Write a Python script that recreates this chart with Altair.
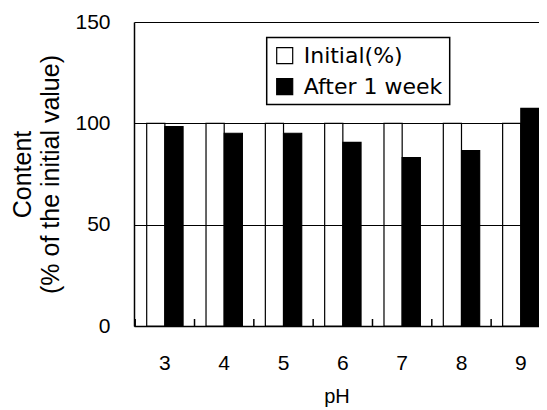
import altair as alt
import pandas as pd

ph_values = ["3", "4", "5", "6", "7", "8", "9"]
series_names = ["Initial(%)", "After 1 week"]
initial_values = [100, 100, 100, 100, 100, 100, 100]
after_values = [98.4, 95.1, 95.1, 90.6, 83.1, 86.5, 107.4]
y_ticks = [0, 50, 100, 150]

rows = []
for p, a, b in zip(ph_values, initial_values, after_values):
    rows.append({"pH": p, "series": series_names[0], "value": a})
    rows.append({"pH": p, "series": series_names[1], "value": b})
df = pd.DataFrame(rows)
cat_df = pd.DataFrame({"pH": ph_values})

FONT = "Liberation Sans"

x_scale = alt.Scale(domain=ph_values, paddingInner=0.387, paddingOuter=0.107, align=1)
x_axis = alt.Axis(
    labelAngle=0, ticks=False, domain=True, domainColor="black", domainWidth=1.5,
    grid=False, labelFont=FONT, labelFontSize=21, labelColor="black", labelPadding=26,
    title="pH", titleFont=FONT, titleFontSize=20, titleFontWeight="normal",
    titleColor="black", titlePadding=13,
)

bars = alt.Chart(df).mark_bar(stroke="black", strokeWidth=1.2).encode(
    x=alt.X("pH:O", scale=x_scale, axis=x_axis, sort=ph_values),
    xOffset=alt.XOffset("series:N", sort=series_names,
                        scale=alt.Scale(domain=series_names, paddingInner=0, paddingOuter=0)),
    y=alt.Y(
        "value:Q",
        scale=alt.Scale(domain=[0, 150], nice=False),
        axis=alt.Axis(
            values=y_ticks, ticks=False, domain=True, domainColor="black", domainWidth=1.5,
            grid=True, gridColor="black", gridWidth=1, gridOpacity=1,
            labelFont=FONT, labelFontSize=21, labelColor="black", labelPadding=24,
            title=["Content", "(% of the initial value)"], titleFont=FONT,
            titleFontSize=25, titleFontWeight="normal", titleColor="black",
            titleLineHeight=28, titlePadding=11, zindex=1,
        ),
    ),
    fill=alt.Fill(
        "series:N",
        sort=series_names,
        scale=alt.Scale(domain=series_names, range=["white", "black"]),
        legend=alt.Legend(
            title=None, orient="none", legendX=132.7, legendY=15.6,
            strokeColor="black", padding=7, fillColor="white",
            symbolType="square", symbolSize=256, symbolStrokeColor="black",
            symbolStrokeWidth=1.2, labelFont="DejaVu Sans", labelFontSize=22,
            labelColor="black", labelOffset=8, rowPadding=9, labelLimit=300,
        ),
    ),
)

ticks = alt.Chart(cat_df).mark_rule(color="black", strokeWidth=1.5, xOffset=-11.5).encode(
    x=alt.X("pH:O", scale=x_scale, axis=x_axis, sort=ph_values, bandPosition=0),
    y=alt.value(304),
    y2=alt.value(297),
)

chart = (
    alt.layer(bars, ticks)
    .properties(
        width=405, height=304,
        autosize=alt.AutoSizeParams(type="none"),
        padding={"left": 126, "top": 14, "right": 0, "bottom": 84},
    )
    .configure_view(stroke=None)
    .configure_legend(strokeWidth=1.5)
)

chart.save("out.html", embed_options={"renderer": "svg", "actions": False})
